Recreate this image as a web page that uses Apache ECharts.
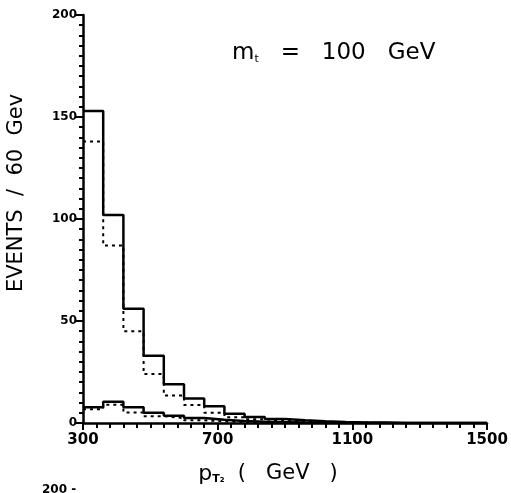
<!DOCTYPE html>
<html lang="en">
<head>
    <meta charset="UTF-8">
    <title>pT2 histogram</title>
    <script src="https://cdn.jsdelivr.net/npm/echarts@6/dist/echarts.min.js"></script>
    <style>
        html, body { margin: 0; padding: 0; background: #fff; }
        .box { width: 511px; height: 493px; }
    </style>
</head>
<body>
    <div class="box"></div>
    <script>
        // bin edges, 60 GeV wide
        var binStart = 300
        var binWidth = 60
        var nBins = 20

        // event counts per bin
        var bigSolid  = [153, 102, 56, 33, 19, 12, 8.2, 4.5, 3, 2, 1.3, 0.8, 0.5, 0.3, 0.2, 0, 0, 0, 0, 0]
        var bigDotted = [138, 87, 45, 24, 13.5, 8.8, 5, 2.8, 1.8, 1.2, 0.8, 0.5, 0.3, 0.2, 0, 0, 0, 0, 0, 0]
        var smallSolid  = [7.7, 10.4, 7.7, 5, 3.6, 2.4, 1.6, 1, 0.6, 0.4, 0.2, 0.1, 0, 0, 0, 0, 0, 0, 0, 0]
        var smallDotted = [6.7, 9, 5.2, 3.3, 2.4, 1.3, 0.8, 0.5, 0.3, 0.2, 0.1, 0, 0, 0, 0, 0, 0, 0, 0, 0]

        var xTicks = [300, 700, 1100, 1500]
        var yTicks = [0, 50, 100, 150, 200]

        // step points: left edge of each bin, plus the final right edge
        function toSteps(vals) {
            var pts = []
            for (var i = 0; i < nBins; i++) {
                pts.push([binStart + i * binWidth, vals[i]])
            }
            pts.push([binStart + nBins * binWidth, vals[nBins - 1]])
            return pts
        }

        function histo(vals, dotted) {
            return {
                type: 'line',
                step: 'end',
                symbol: 'none',
                silent: true,
                data: toSteps(vals),
                lineStyle: {
                    color: '#000',
                    width: dotted ? 2 : 2.5,
                    type: dotted ? [3, 4] : 'solid'
                }
            }
        }

        let chart = echarts.init(document.querySelector('.box'))

        let option = {
            animation: false,
            backgroundColor: '#fff',
            grid: { left: 83, right: 24, top: 15, bottom: 70 },
            xAxis: {
                type: 'value',
                min: xTicks[0],
                max: xTicks[xTicks.length - 1],
                interval: 400,
                axisLine: { lineStyle: { color: '#000', width: 2.5 } },
                axisTick: { length: 7, lineStyle: { color: '#000', width: 2 } },
                minorTick: { show: true, splitNumber: 10, length: 5, lineStyle: { color: '#000', width: 2 } },
                splitLine: { show: false },
                axisLabel: {
                    color: '#000', fontFamily: 'DejaVu Sans', fontWeight: 'bold', fontSize: 15, margin: 10,
                    formatter: function (v) { return xTicks.indexOf(v) >= 0 ? String(v) : '' }
                }
            },
            yAxis: {
                type: 'value',
                min: yTicks[0],
                max: yTicks[yTicks.length - 1],
                interval: 50,
                axisLine: { show: true, lineStyle: { color: '#000', width: 2.5 } },
                axisTick: { show: true, length: 7, lineStyle: { color: '#000', width: 2 } },
                minorTick: { show: true, splitNumber: 10, length: 4, lineStyle: { color: '#000', width: 2 } },
                splitLine: { show: false },
                axisLabel: {
                    color: '#000', fontFamily: 'DejaVu Sans', fontWeight: 'bold', fontSize: 12, margin: 6
                }
            },
            graphic: [
                {
                    // y axis title
                    type: 'text',
                    x: 17,
                    y: 193,
                    rotation: Math.PI / 2,
                    style: {
                        text: 'EVENTS  /  60  Gev',
                        fill: '#000',
                        font: '21px "DejaVu Sans"',
                        align: 'center',
                        verticalAlign: 'middle'
                    }
                },
                {
                    // x axis title
                    type: 'text',
                    x: 268,
                    y: 474,
                    style: {
                        text: '{p|p}{s|T\u2082}  (   GeV   )',
                        fill: '#000',
                        font: '21px "DejaVu Sans"',
                        align: 'center',
                        verticalAlign: 'middle',
                        rich: {
                            p: { fontFamily: 'DejaVu Sans', fontSize: 22, fill: '#000' },
                            s: { fontFamily: 'DejaVu Sans', fontSize: 11, fontWeight: 'bold', fill: '#000', verticalAlign: 'bottom', padding: [8, 0, 0, 0] }
                        }
                    }
                },
                {
                    type: 'text',
                    left: 232,
                    top: 42,
                    style: {
                        text: '{m|m}{t|t}   =   100   GeV',
                        fill: '#000',
                        font: '23px "DejaVu Sans"',
                        rich: {
                            m: { fontFamily: 'DejaVu Sans', fontSize: 23, fill: '#000' },
                            t: { fontFamily: 'DejaVu Sans', fontSize: 11, fill: '#000', verticalAlign: 'bottom', padding: [10, 0, 0, 0] }
                        }
                    }
                },
                {
                    type: 'text',
                    left: 42,
                    top: 484,
                    style: { text: '200 -', fill: '#000', font: 'bold 12px "DejaVu Sans"' }
                }
            ],
            series: [
                histo(bigSolid, false),
                histo(bigDotted, true),
                histo(smallSolid, false),
                histo(smallDotted, true)
            ]
        }

        chart.setOption(option)
    </script>
</body>
</html>
